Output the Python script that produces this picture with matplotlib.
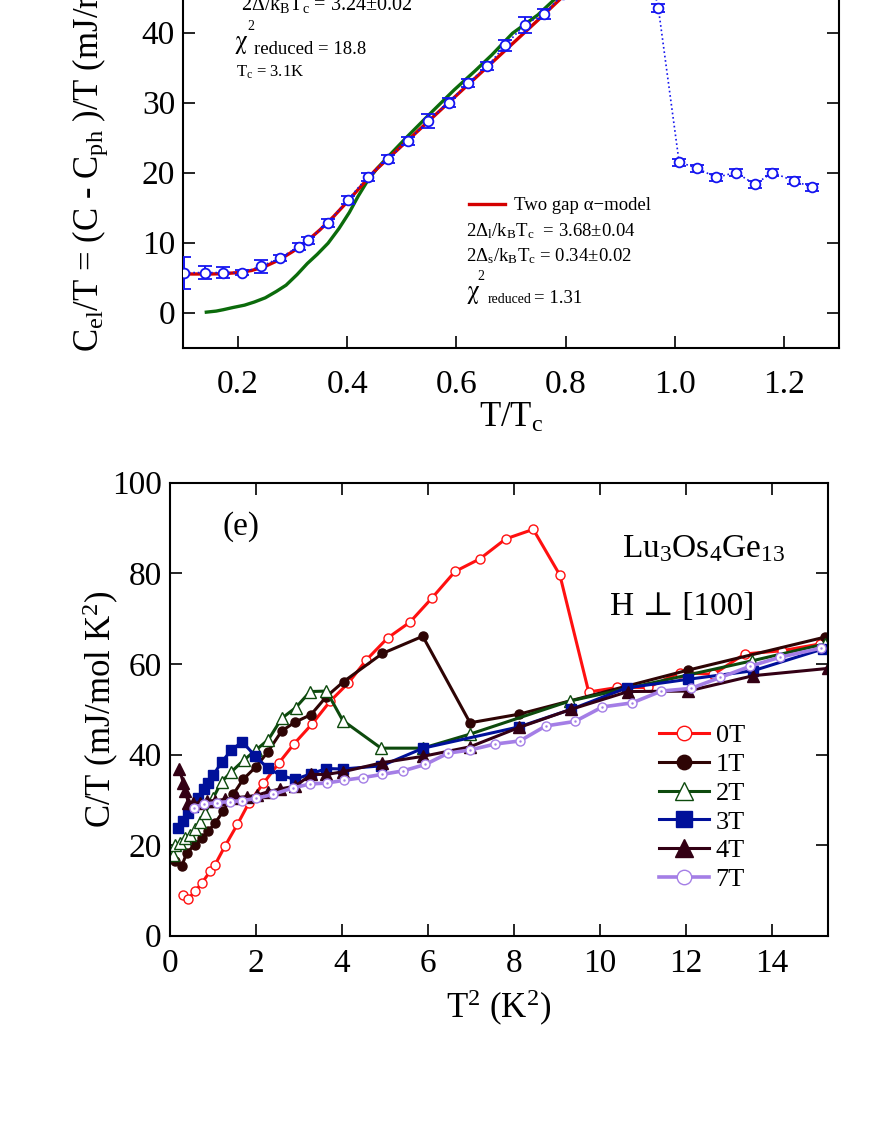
import matplotlib
matplotlib.use('Agg')
from matplotlib import pyplot as plt

W, H = 872, 1128

plt.rcParams['font.family'] = ['Liberation Serif', 'DejaVu Serif']
plt.rcParams['mathtext.fontset'] = 'custom'
plt.rcParams['mathtext.rm'] = 'Liberation Serif'
plt.rcParams['mathtext.it'] = 'Liberation Serif'
plt.rcParams['mathtext.bf'] = 'Liberation Serif:bold'

# --- upper panel: Cel/T vs T/Tc (top of panel is cut off in the original) ---
t_exp = [0.102, 0.139, 0.173, 0.208, 0.242, 0.277, 0.311, 0.328, 0.365, 0.401,
         0.438, 0.474, 0.511, 0.548, 0.586, 0.622, 0.657, 0.690, 0.725, 0.761,
         0.796, 0.831, 0.866, 0.901, 0.935, 0.970, 1.008, 1.041, 1.076, 1.112,
         1.147, 1.179, 1.218, 1.252]
cel_exp = [5.7, 5.7, 5.7, 5.7, 6.6, 7.8, 9.4, 10.3, 12.8, 16.1,
           19.4, 21.9, 24.5, 27.3, 30.0, 32.8, 35.2, 38.2, 41.1, 42.7,
           45.5, 48.0, 50.6, 53.0, 55.0, 43.5, 21.5, 20.6, 19.3, 20.0,
           18.3, 20.0, 18.8, 17.9]
cel_err = [2.3, 0.95, 0.8, 0.35, 0.9, 0.45, 0.5, 0.45, 0.6, 0.6,
           0.6, 0.6, 0.6, 1.0, 0.7, 0.6, 0.6, 0.8, 1.1, 0.7,
           0.6, 0.6, 0.6, 0.6, 0.6, 0.6, 0.5, 0.5, 0.5, 0.5,
           0.5, 0.5, 0.5, 0.5]

# two gap alpha-model fit (red)
t_two = [0.100, 0.125, 0.150, 0.175, 0.200, 0.225, 0.250, 0.275, 0.300, 0.325,
         0.350, 0.375, 0.400, 0.425, 0.450, 0.500, 0.550, 0.600, 0.650, 0.700,
         0.750, 0.800, 0.850, 0.900, 0.950, 0.990]
c_two = [5.5, 5.5, 5.5, 5.55, 5.7, 6.0, 6.6, 7.5, 8.7, 10.1,
         11.8, 13.7, 15.8, 18.0, 20.2, 23.8, 27.4, 31.0, 34.6, 38.2,
         41.8, 45.5, 49.2, 52.8, 56.4, 59.0]

# single gap fit (green)
t_one = [0.142, 0.160, 0.173, 0.190, 0.212, 0.230, 0.250, 0.270, 0.288, 0.308,
         0.327, 0.345, 0.365, 0.385, 0.404, 0.420, 0.438, 0.455, 0.473, 0.511,
         0.557, 0.596, 0.634, 0.665, 0.703, 0.749, 0.800, 0.850, 0.900, 0.950,
         0.990]
c_one = [0.05, 0.2, 0.4, 0.7, 1.05, 1.5, 2.1, 3.0, 3.9, 5.4,
         7.0, 8.3, 9.9, 12.0, 14.3, 16.6, 18.9, 20.6, 22.1, 25.2,
         28.8, 31.8, 34.5, 36.8, 39.9, 42.5, 46.2, 50.0, 53.8, 57.5,
         60.5]

# --- lower panel: C/T vs T^2 for several fields ---
x_0T = [0.30, 0.43, 0.58, 0.75, 0.93, 1.05, 1.28, 1.57, 1.84, 2.17,
        2.53, 2.89, 3.31, 3.72, 4.15, 4.57, 5.06, 5.58, 6.09, 6.63,
        7.21, 7.81, 8.45, 9.07, 9.74, 10.41, 11.12, 11.86, 12.64, 13.37,
        14.23, 15.12]
y_0T = [8.9, 8.2, 9.8, 11.7, 14.2, 15.7, 19.8, 24.6, 29.4, 33.6,
        38.1, 42.4, 46.8, 51.7, 55.8, 60.9, 65.7, 69.2, 74.5, 80.4,
        83.2, 87.6, 89.7, 79.6, 53.8, 54.8, 54.8, 58.1, 57.7, 62.2,
        62.9, 64.4]

x_1T = [0.12, 0.27, 0.39, 0.58, 0.74, 0.89, 1.05, 1.24, 1.47, 1.70,
        2.00, 2.27, 2.60, 2.90, 3.28, 3.64, 4.04, 4.94, 5.88, 6.98,
        8.12, 12.04, 15.23]
y_1T = [16.4, 15.3, 18.3, 20.1, 21.6, 23.1, 24.9, 27.5, 31.2, 34.5,
        37.3, 40.5, 45.2, 47.1, 48.8, 52.8, 56.1, 62.3, 66.1, 47.0,
        48.9, 58.6, 65.9]

x_2T = [0.08, 0.12, 0.23, 0.35, 0.47, 0.58, 0.70, 0.81, 1.01, 1.20,
        1.43, 1.71, 2.00, 2.29, 2.60, 2.92, 3.26, 3.64, 4.02, 4.91,
        5.88, 6.98, 9.30, 13.55, 15.23]
y_2T = [17.9, 20.1, 20.5, 21.6, 22.3, 23.5, 25.0, 27.0, 30.5, 34.0,
        36.2, 38.7, 41.0, 43.3, 48.0, 50.3, 53.9, 54.0, 47.5, 41.4,
        41.4, 44.5, 51.8, 60.7, 64.4]

x_3T = [0.19, 0.31, 0.43, 0.54, 0.66, 0.78, 0.89, 1.01, 1.20, 1.43,
        1.68, 1.98, 2.27, 2.58, 2.90, 3.27, 3.64, 4.02, 4.92, 5.89,
        8.12, 9.34, 10.62, 12.05, 13.57, 15.19]
y_3T = [23.8, 25.3, 27.1, 28.5, 30.5, 32.3, 33.8, 35.5, 38.3, 41.0,
        42.8, 39.7, 37.0, 35.4, 34.5, 35.7, 36.9, 36.8, 37.5, 41.4,
        46.1, 50.0, 54.7, 56.6, 58.5, 63.3]

x_4T = [0.22, 0.31, 0.35, 0.43, 0.54, 0.70, 0.85, 1.05, 1.28, 1.55,
        1.80, 2.02, 2.29, 2.56, 2.91, 3.29, 3.64, 4.03, 4.94, 5.89,
        6.98, 8.13, 9.34, 10.66, 12.05, 13.57, 15.30]
y_4T = [36.7, 33.8, 31.9, 29.4, 29.2, 29.4, 29.8, 29.8, 30.1, 30.5,
        30.7, 31.0, 31.8, 32.4, 33.0, 35.6, 35.6, 36.2, 38.2, 39.6,
        41.7, 46.0, 50.0, 53.9, 54.0, 57.4, 59.0]

x_7T = [0.55, 0.78, 1.09, 1.40, 1.67, 2.00, 2.40, 2.85, 3.26, 3.65,
        4.04, 4.48, 4.93, 5.43, 5.94, 6.47, 6.98, 7.56, 8.14, 8.74,
        9.42, 10.06, 10.75, 11.43, 12.12, 12.80, 13.50, 14.20, 15.15]
y_7T = [28.3, 29.0, 29.4, 29.6, 29.8, 30.3, 31.2, 32.6, 33.5, 33.7,
        34.3, 34.9, 35.6, 36.4, 37.8, 40.3, 41.0, 42.3, 43.0, 46.3,
        47.3, 50.5, 51.4, 54.0, 54.6, 57.0, 59.5, 61.5, 63.5]


def fx(x):
    return x / W


def fy(y):
    return 1 - y / H


def style_axes(ax):
    for s in ax.spines.values():
        s.set_linewidth(1.5)
    ax.tick_params(direction='in', length=8.5, width=1.2, labelsize=24,
                   top=True, right=True, pad=6)


fig = plt.figure(figsize=(W / 100, H / 100), dpi=100)

# upper axes (extends above the figure edge, as in the cropped original)
ax1 = fig.add_axes([fx(183.4), fy(347.5), fx(838.5) - fx(183.4), 455 / H])
ax1.plot(t_one, c_one, color='#0b6b0b', lw=2.4, zorder=2)
ax1.plot(t_two, c_two, color='#d40000', lw=2.4, zorder=3,
         label='Two gap α\u2212model')
ax1.errorbar(t_exp, cel_exp, yerr=cel_err, fmt='o', ls=':', lw=1.2,
             color='#1515f0', mfc='white', mec='#1515f0', ms=7, mew=1.3,
             elinewidth=1.4, capsize=5, capthick=1.4, zorder=4)
ax1.set_xlim(0.1, 1.3)
ax1.set_ylim(-5, 60)
ax1.set_xticks([0.2, 0.4, 0.6, 0.8, 1.0, 1.2])
ax1.set_yticks([0, 10, 20, 30, 40, 50, 60])
style_axes(ax1)
ax1.tick_params(axis='x', pad=16)
ax1.set_xlabel('T/T$_{c}$', fontsize=25)
ax1.xaxis.set_label_coords(0.5, -0.119)
fig.text(fx(90), fy(352), 'C$_{el}$/T = (C - C$_{ph}$ )/T (mJ/mol K$^{2}$)',
         rotation=90, ha='center', va='bottom', fontsize=25)

leg1 = ax1.legend(loc='upper left', bbox_to_anchor=(fx(469), fy(197)),
                  bbox_transform=fig.transFigure, frameon=False,
                  fontsize=13.5, handlelength=1.9, handletextpad=0.5,
                  borderpad=0, borderaxespad=0)

fig.text(fx(241), fy(10), '2Δ/k$_{B}$T$_{c}$ = 3.24±0.02', fontsize=14.5,
         va='baseline')
fig.text(fx(235), fy(48), 'χ', fontsize=18, va='baseline', family='STIXGeneral')
fig.text(fx(247), fy(30), '2', fontsize=10, va='baseline')
fig.text(fx(254), fy(54), 'reduced = 18.8', fontsize=13.5, va='baseline')
fig.text(fx(236), fy(77), 'T$_{c}$ = 3.1K', fontsize=12, va='baseline')

fig.text(fx(466), fy(236), '2Δ$_{l}$/k$_{B}$T$_{c}$  = 3.68±0.04', fontsize=13.5,
         va='baseline')
fig.text(fx(466), fy(261), '2Δ$_{s}$/k$_{B}$T$_{c}$ = 0.34±0.02', fontsize=13.5,
         va='baseline')
fig.text(fx(467), fy(298), 'χ', fontsize=18, va='baseline', family='STIXGeneral')
fig.text(fx(477), fy(280), '2', fontsize=10, va='baseline')
fig.text(fx(488), fy(303), 'reduced', fontsize=10, va='baseline')
fig.text(fx(534), fy(303), '= 1.31', fontsize=13.5, va='baseline')

# lower axes
ax2 = fig.add_axes([fx(170), fy(935.7), fx(827.7) - fx(170), 453 / H])
l0, = ax2.plot(x_0T, y_0T, '-o', color='#ff1010', lw=2.2, ms=6.5,
               mfc='white', mec='#ff1010', mew=1.0, label='0T')
l1, = ax2.plot(x_1T, y_1T, '-o', color='#2e0404', lw=2.2, ms=6.5,
               mfc='#2e0404', mec='#2e0404', label='1T')
l2, = ax2.plot(x_2T, y_2T, '-^', color='#0d4a0d', lw=2.2, ms=8,
               mfc='white', mec='#0d4a0d', mew=1.0, label='2T')
l3, = ax2.plot(x_3T, y_3T, '-s', color='#00109a', lw=2.2, ms=7,
               mfc='#00109a', mec='#00109a', label='3T')
l4, = ax2.plot(x_4T, y_4T, '-^', color='#330014', lw=2.2, ms=8,
               mfc='#330014', mec='#330014', label='4T')
l7, = ax2.plot(x_7T, y_7T, '-o', color='#a47ee6', lw=2.6, ms=6.5,
               mfc='white', mec='#a47ee6', mew=1.0, label='7T')
ax2.plot(x_7T, y_7T, '.', color='#a47ee6', ms=1.5)
ax2.set_xlim(0, 15.3)
ax2.set_ylim(0, 100)
ax2.set_xticks(range(0, 16, 2))
ax2.set_yticks(range(0, 101, 20))
style_axes(ax2)
ax2.tick_params(axis='x', pad=9)
ax2.set_xlabel('T$^{2}$ (K$^{2}$)', fontsize=25)
ax2.set_ylabel('C/T (mJ/mol K$^{2}$)', fontsize=25)
ax2.xaxis.set_label_coords(0.5, -0.115)
ax2.yaxis.set_label_coords(-0.075, 0.5)

ax2.legend(handles=[l0, l1, l2, l3, l4, l7],
           loc='upper left', bbox_to_anchor=(fx(659), fy(724)),
           bbox_transform=fig.transFigure, frameon=False, fontsize=19,
           markerscale=1.6, handlelength=1.9, handletextpad=0.25,
           labelspacing=0.2, borderpad=0, borderaxespad=0)

fig.text(fx(222), fy(527), '(e)', fontsize=24, va='center')
fig.text(fx(622), fy(549), 'Lu$_{3}$Os$_{4}$Ge$_{13}$', fontsize=24, va='center')
fig.text(fx(610), fy(607), 'H ⊥ [100]', fontsize=24, va='center')

fig.savefig('out.png', dpi=100)
